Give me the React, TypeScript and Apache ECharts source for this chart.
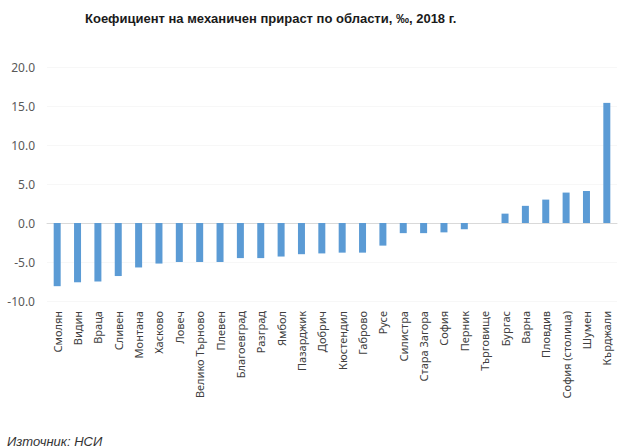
import React, { useEffect, useRef } from "react";
import * as echarts from "echarts";

const categories: string[] = [
  "Смолян", "Видин", "Враца", "Сливен", "Монтана", "Хасково", "Ловеч",
  "Велико Търново", "Плевен", "Благоевград", "Разград", "Ямбол", "Пазарджик",
  "Добрич", "Кюстендил", "Габрово", "Русе", "Силистра", "Стара Загора",
  "София", "Перник", "Търговище", "Бургас", "Варна", "Пловдив",
  "София (столица)", "Шумен", "Кърджали",
];

const values: number[] = [
  -8.1, -7.6, -7.5, -6.8, -5.7, -5.2, -5.0, -5.0, -5.0, -4.5, -4.5, -4.3,
  -4.0, -3.9, -3.8, -3.8, -2.9, -1.3, -1.3, -1.2, -0.8, 0.0, 1.2, 2.2,
  3.0, 3.9, 4.1, 15.4,
];

const titleText = "Коефициент на механичен прираст по области, ‰, 2018 г.";
const sourceText = "Източник: НСИ";

export default function App() {
  const ref = useRef<HTMLDivElement>(null);
  useEffect(() => {
    document.body.style.margin = "0";
    if (!ref.current) return;
    const chart = echarts.init(ref.current, null, { renderer: "svg" });
    chart.setOption({
      animation: false,
      backgroundColor: "#ffffff",
      title: [
        {
          text: titleText,
          left: 80,
          top: 7,
          textStyle: {
            fontFamily: "Liberation Sans",
            fontWeight: "bold",
            fontSize: 13,
            color: "#1a1a1a",
          },
        },
        {
          text: sourceText,
          left: 2,
          top: 430,
          textStyle: {
            fontFamily: "Liberation Sans",
            fontStyle: "italic",
            fontWeight: "normal",
            fontSize: 13,
            color: "#333333",
          },
        },
      ],
      grid: { left: 47, right: 23, top: 67, bottom: 147 },
      xAxis: {
        type: "category",
        data: categories,
        axisTick: { show: false },
        axisLine: { show: true, onZero: true, lineStyle: { color: "#d9d9d9", width: 1 } },
        axisLabel: {
          rotate: 90,
          interval: 0,
          margin: 10,
          fontFamily: "Noto Sans",
          fontSize: 11,
          color: "#404040",
        },
        position: "bottom",
      },
      yAxis: {
        type: "value",
        min: -10,
        max: 20,
        interval: 5,
        axisLine: { show: false },
        axisTick: { show: false },
        splitLine: { show: true, lineStyle: { color: "#f7f7f7" } },
        axisLabel: {
          margin: 12,
          fontFamily: "Noto Sans",
          fontSize: 12,
          color: "#595959",
          formatter: (v: number) => v.toFixed(1),
        },
      },
      series: [
        {
          type: "bar",
          data: values,
          barWidth: 7,
          itemStyle: { color: "#5b9bd5" },
        },
      ],
    });
    return () => chart.dispose();
  }, []);
  return <div ref={ref} style={{ width: 640, height: 448 }} />;
}
